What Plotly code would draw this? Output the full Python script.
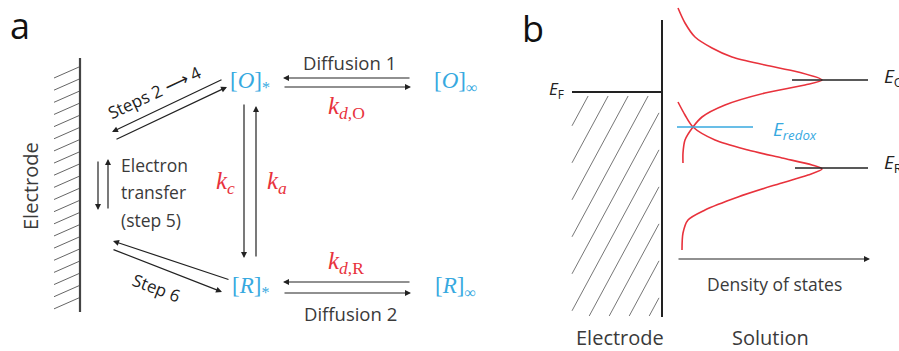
import plotly.graph_objects as go

# ---------------- data (pixel space) ----------------
# Density-of-states curves in panel b (x = density, y = energy, screen px)
dos_O_x = [678, 685, 695, 712, 732, 765, 798, 822, 805, 765, 725, 702, 693, 685, 683, 683]
dos_O_y = [8, 23, 37, 48, 57, 65, 72, 80, 85, 93, 105, 117, 127, 140, 153, 163]
dos_R_x = [678, 685, 693, 715, 748, 782, 812, 822, 808, 775, 738, 705, 688, 683, 682]
dos_R_y = [102, 115, 127, 140, 150, 158, 165, 169, 175, 185, 197, 210, 220, 233, 250]

# energy levels (screen px)
level_names = ["E_F", "E_O", "E_R", "E_redox"]
level_y = [92, 80, 168, 127]

GRAY = "#3a3a3a"
DARK = "#222222"
CYAN = "#37a9df"
RED = "#e8323c"
SANS = "'Open Sans', Lato, sans-serif"
SERIF = "'Liberation Serif', 'DejaVu Serif', serif"

fig = go.Figure()
shapes = []
ann = []


def line(x0, y0, x1, y1, color=DARK, width=1.3):
    shapes.append(dict(type="line", xref="x", yref="y", x0=x0, y0=y0, x1=x1, y1=y1,
                       line=dict(color=color, width=width)))


def arrow(tx, ty, hx, hy, color=DARK):
    ann.append(dict(x=hx, y=hy, ax=tx, ay=ty, xref="x", yref="y", axref="x", ayref="y",
                    text="", showarrow=True, arrowhead=2, arrowsize=1.0, arrowwidth=1.2,
                    arrowcolor=color, standoff=0, startstandoff=0,
                    font=dict(size=10, family=SANS)))


def text(x, y, s, size=17, color=GRAY, family=SANS, angle=0, xanchor="center", yanchor="middle"):
    ann.append(dict(x=x, y=y, xref="x", yref="y", text=s, showarrow=False,
                    font=dict(size=size, color=color, family=family), textangle=angle,
                    xanchor=xanchor, yanchor=yanchor))


# ================= panel a =================
text(8, 25, "a", size=36, color="#111", family=SANS, xanchor="left")
# electrode with hatching
line(80, 58, 80, 312, color="#444", width=2.2)
for i in range(20):
    ye = 67 + i * 12.15
    line(54, ye + 11, 79, ye, color="#666", width=1)
text(30, 186, "Electrode", size=20, color=GRAY, angle=-90)

# steps 2-4
arrow(223, 79, 112, 132)
arrow(115, 140, 227, 87)
text(154, 92, "Steps 2 \u27f6 4", size=17, color=DARK, angle=-25)
# electron transfer
arrow(98, 160, 98, 210)
arrow(108, 210, 108, 159)
text(119, 165, "Electron", size=17.5, color=GRAY, xanchor="left")
text(119, 192, "transfer", size=17.5, color=GRAY, xanchor="left")
text(119, 220, "(step 5)", size=17.5, color=GRAY, xanchor="left")
# step 6
arrow(230, 280, 113, 241)
arrow(112, 249, 222, 292)
text(156, 287, "Step 6", size=17, color=DARK, angle=21)

# species
text(250, 82, "[<i>O</i>]<sub>*</sub>", size=23, color=CYAN, family=SERIF)
text(250, 287, "[<i>R</i>]<sub>*</sub>", size=23, color=CYAN, family=SERIF)
text(455, 82, "[<i>O</i>]<sub>\u221e</sub>", size=23, color=CYAN, family=SERIF)
text(455, 287, "[<i>R</i>]<sub>\u221e</sub>", size=23, color=CYAN, family=SERIF)

# kc / ka
arrow(244, 103, 244, 258)
arrow(256, 258, 256, 106)
text(225, 182, "<i>k</i><sub><i>c</i></sub>", size=25, color=RED, family=SERIF)
text(277, 182, "<i>k</i><sub><i>a</i></sub>", size=25, color=RED, family=SERIF)

# diffusion
arrow(411, 78, 283, 78)
arrow(283, 87, 411, 87)
arrow(411, 282, 283, 282)
arrow(283, 293, 411, 293)
text(349, 62, "Diffusion 1", size=18.5, color=GRAY)
text(350, 313, "Diffusion 2", size=18.5, color=GRAY)
text(346, 107, "<i>k</i><sub><i>d</i>,O</sub>", size=25, color=RED, family=SERIF)
text(346, 262, "<i>k</i><sub><i>d</i>,R</sub>", size=25, color=RED, family=SERIF)

# ================= panel b =================
text(520, 28, "b", size=36, color="#111", family=SANS, xanchor="left")
line(662, 20, 662, 317, color=DARK, width=2)
# E_F and hatched metal
yF = level_y[0]
line(572, yF, 662, yF, color=DARK, width=2)
text(556, yF - 3, "<i>E</i><sub>F</sub>", size=17, color=DARK)
xl, xr, yt, yb = 572.0, 659.0, 96.0, 316.0
s = 1.85
for k in range(-1, 16):
    c = 640 + 20 * k
    pts = []
    # x + y/s = c
    for yy in (yt, yb):
        xx = c - yy / s
        if xl <= xx <= xr:
            pts.append((xx, yy))
    for xx in (xl, xr):
        yy = (c - xx) * s
        if yt <= yy <= yb:
            pts.append((xx, yy))
    if len(pts) >= 2:
        pts = sorted(set(pts))
        (ax0, ay0), (ax1, ay1) = pts[0], pts[-1]
        line(ax0, ay0, ax1, ay1, color="#777", width=1)

# DOS curves
fig.add_trace(go.Scatter(x=dos_O_x, y=dos_O_y, mode="lines",
                         line=dict(color=RED, width=1.6, shape="spline", smoothing=0.8),
                         hoverinfo="skip"))
fig.add_trace(go.Scatter(x=dos_R_x, y=dos_R_y, mode="lines",
                         line=dict(color=RED, width=1.6, shape="spline", smoothing=0.8),
                         hoverinfo="skip"))

# levels
line(792, level_y[1], 868, level_y[1], color=DARK, width=1.5)
text(882, level_y[1] - 3, "<i>E</i><sub>O</sub>", size=19, color=DARK, xanchor="left")
line(795, level_y[2], 868, level_y[2], color=DARK, width=1.5)
text(882, level_y[2] - 5, "<i>E</i><sub>R</sub>", size=19, color=DARK, xanchor="left")
line(677, level_y[3], 753, level_y[3], color=CYAN, width=1.6)
text(771, level_y[3] + 3, "<i>E</i><sub><i>redox</i></sub>", size=19, color=CYAN, xanchor="left")

# DOS axis
arrow(677, 259, 870, 259)
text(774, 284, "Density of states", size=17.5, color=GRAY)
text(620, 337, "Electrode", size=20, color=GRAY)
text(770, 337, "Solution", size=20, color=GRAY)

fig.update_layout(
    width=899, height=351, margin=dict(l=0, r=0, t=0, b=0),
    paper_bgcolor="white", plot_bgcolor="white", showlegend=False,
    xaxis=dict(range=[0, 899], visible=False, fixedrange=True),
    yaxis=dict(range=[351, 0], visible=False, fixedrange=True),
    shapes=shapes, annotations=ann,
)
fig.write_html("out.html")
